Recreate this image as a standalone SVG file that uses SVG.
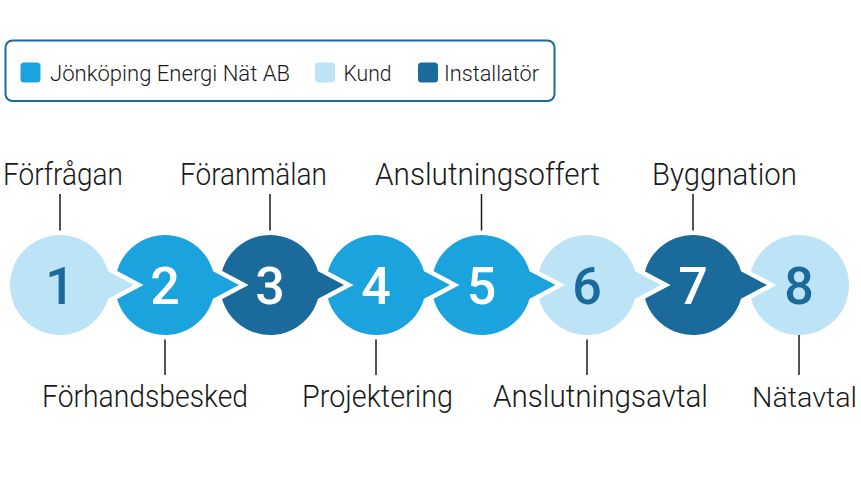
<svg xmlns="http://www.w3.org/2000/svg" width="861" height="484" viewBox="0 0 861 484">
<style>
.lbl{font-family:Roboto,"Liberation Sans",sans-serif;font-size:31px;font-weight:300;fill:#1a1a1a}
.leg{font-family:Roboto,"Liberation Sans",sans-serif;font-size:22px;font-weight:300;fill:#1a1a1a}
.num{font-family:Roboto,"Liberation Sans",sans-serif;font-size:52px;font-weight:500;text-anchor:middle}
.shape{stroke:#fff;stroke-width:9;stroke-linejoin:miter;stroke-miterlimit:10;paint-order:stroke fill}
.light{fill:#bde3f7}
.mid{fill:#1ba3de}
.dark{fill:#1b6a9c}
.nl{fill:#1b6a9c}
.nw{fill:#fff}
.conn line{stroke:#1a1a1a;stroke-width:1.5}
</style>
<rect width="861" height="484" fill="#fff"/>
<g id="legend">
<rect x="5.5" y="40.5" width="549" height="60.5" rx="7" fill="#fff" stroke="#1b6a9c" stroke-width="2"/>
<rect x="20.5" y="62.5" width="20" height="20" rx="3.5" class="mid"/>
<text x="50" y="80.7" class="leg" textLength="240" lengthAdjust="spacingAndGlyphs">Jönköping Energi Nät AB</text>
<rect x="315" y="62.5" width="20" height="20" rx="3.5" class="light"/>
<text x="343.5" y="80.7" class="leg" textLength="48" lengthAdjust="spacingAndGlyphs">Kund</text>
<rect x="418" y="62.5" width="20" height="20" rx="3.5" class="dark"/>
<text x="444" y="80.7" class="leg" textLength="95" lengthAdjust="spacingAndGlyphs">Installatör</text>
</g>
<g id="connectors" class="conn">
<line x1="60" y1="194" x2="60" y2="236"/>
<line x1="165" y1="334" x2="165" y2="375"/>
<line x1="270" y1="194" x2="270" y2="236"/>
<line x1="376" y1="334" x2="376" y2="375"/>
<line x1="481.5" y1="194" x2="481.5" y2="236"/>
<line x1="587" y1="334" x2="587" y2="375"/>
<line x1="693" y1="194" x2="693" y2="236"/>
<line x1="799" y1="334" x2="799" y2="375"/>
</g>
<g id="step8">
<circle cx="799" cy="285" r="50" class="light"/>
<text x="799" y="303.5" class="num nl">8</text>
<text x="752" y="407" class="lbl" style="font-size:28.5px" textLength="105" lengthAdjust="spacingAndGlyphs">Nätavtal</text>
</g>
<g id="step7">
<path class="shape dark" d="M741.06,271.22 L767,285 L741.06,298.78 A50 50 0 1 1 741.06,271.22 Z"/>
<text x="693" y="303.5" class="num nw">7</text>
<text x="652" y="185" class="lbl" textLength="145" lengthAdjust="spacingAndGlyphs">Byggnation</text>
</g>
<g id="step6">
<path class="shape light" d="M635.06,271.22 L661,285 L635.06,298.78 A50 50 0 1 1 635.06,271.22 Z"/>
<text x="587" y="303.5" class="num nl">6</text>
<text x="493" y="407" class="lbl" textLength="215" lengthAdjust="spacingAndGlyphs">Anslutningsavtal</text>
</g>
<g id="step5">
<path class="shape mid" d="M529.56,271.22 L555.5,285 L529.56,298.78 A50 50 0 1 1 529.56,271.22 Z"/>
<text x="481.5" y="303.5" class="num nw">5</text>
<text x="375" y="185" class="lbl" textLength="225" lengthAdjust="spacingAndGlyphs">Anslutningsoffert</text>
</g>
<g id="step4">
<path class="shape mid" d="M424.06,271.22 L450,285 L424.06,298.78 A50 50 0 1 1 424.06,271.22 Z"/>
<text x="376" y="303.5" class="num nw">4</text>
<text x="302" y="407" class="lbl" textLength="151" lengthAdjust="spacingAndGlyphs">Projektering</text>
</g>
<g id="step3">
<path class="shape dark" d="M318.06,271.22 L344,285 L318.06,298.78 A50 50 0 1 1 318.06,271.22 Z"/>
<text x="270" y="303.5" class="num nw">3</text>
<text x="180" y="185" class="lbl" textLength="147" lengthAdjust="spacingAndGlyphs">Föranmälan</text>
</g>
<g id="step2">
<path class="shape mid" d="M213.06,271.22 L239,285 L213.06,298.78 A50 50 0 1 1 213.06,271.22 Z"/>
<text x="165" y="303.5" class="num nw">2</text>
<text x="42" y="407" class="lbl" textLength="206" lengthAdjust="spacingAndGlyphs">Förhandsbesked</text>
</g>
<g id="step1">
<path class="shape light" d="M108.06,271.22 L134,285 L108.06,298.78 A50 50 0 1 1 108.06,271.22 Z"/>
<text x="60" y="303.5" class="num nl">1</text>
<text x="3" y="185" class="lbl" textLength="120" lengthAdjust="spacingAndGlyphs">Förfrågan</text>
</g>
</svg>
